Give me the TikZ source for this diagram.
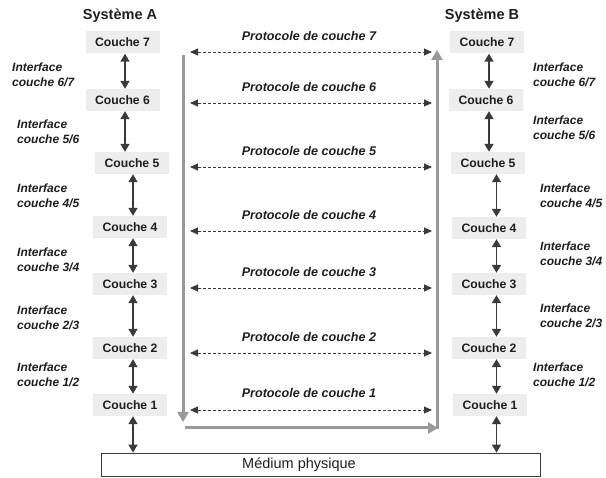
\documentclass[tikz,border=0pt]{standalone}
\usepackage{fontspec}
\setmainfont{Liberation Sans}
\usetikzlibrary{arrows.meta}
\definecolor{boxfill}{HTML}{EDEDED}
\definecolor{dk}{HTML}{3A3A3A}
\definecolor{gr}{HTML}{999999}
\definecolor{txt}{HTML}{1E1E1E}
\begin{document}
\begin{tikzpicture}[x=1pt,y=-1pt,
 couche/.style={fill=boxfill, minimum width=74pt, minimum height=22pt, inner sep=0pt, text=txt, font=\fontsize{12.2}{14}\selectfont\bfseries},
 title/.style={inner sep=0pt, text=txt, font=\fontsize{14.5}{16}\selectfont\bfseries},
 iface/.style={anchor=west, align=left, inner sep=0pt, text=txt, font=\fontsize{12}{15}\selectfont\bfseries\itshape},
 plabel/.style={inner sep=0pt, text=txt, font=\fontsize{12.6}{14}\selectfont\bfseries\itshape},
 biarrow/.style={{Triangle[width=9pt,length=8pt]}-{Triangle[width=9pt,length=8pt]}, draw=dk, line width=1.4pt},
 proto/.style={{Triangle[width=7pt,length=8pt]}-{Triangle[width=7pt,length=8pt]}, draw=dk, line width=0.9pt, dash pattern=on 3pt off 2pt},
 bigarrow/.style={-{Triangle[width=11pt,length=10pt]}, draw=gr, line width=3pt},
]
\useasboundingbox (0,0) rectangle (606,478);

% titles
\node[title] (sa) at (120,16) {Système A};
\node[title] (sb) at (482,16) {Système B};

% left column
\node[couche] (a7) at (122.5,42.5) {Couche 7};
\node[couche] (a6) at (122.5,100) {Couche 6};
\node[couche] (a5) at (132,163) {Couche 5};
\node[couche] (a4) at (130,227) {Couche 4};
\node[couche] (a3) at (130,284) {Couche 3};
\node[couche] (a2) at (130,348) {Couche 2};
\node[couche] (a1) at (130,405) {Couche 1};

% right column
\node[couche] (b7) at (487,42.5) {Couche 7};
\node[couche] (b6) at (486,100) {Couche 6};
\node[couche] (b5) at (488,163) {Couche 5};
\node[couche] (b4) at (489,228) {Couche 4};
\node[couche] (b3) at (489,284) {Couche 3};
\node[couche] (b2) at (489,348) {Couche 2};
\node[couche] (b1) at (490,405) {Couche 1};

% medium
\node[draw=dk, line width=0.8pt, minimum width=439pt, minimum height=23pt, inner sep=0pt] (med) at (320.5,464.5) {};
\node[inner sep=0pt, text=txt, font=\fontsize{14.5}{16}\selectfont] (medtxt) at (299,465) {Médium physique};

% vertical arrow columns
\coordinate (xla) at (125,0);
\coordinate (xlb) at (133,0);
\coordinate (xra) at (489,0);
\coordinate (xrb) at (496.5,0);

\draw[biarrow] (a7.south -| xla) -- (a6.north -| xla);
\draw[biarrow] (a6.south -| xla) -- (a5.north -| xla);
\draw[biarrow] (a5.south -| xlb) -- (a4.north -| xlb);
\draw[biarrow] (a4.south -| xlb) -- (a3.north -| xlb);
\draw[biarrow] (a3.south -| xlb) -- (a2.north -| xlb);
\draw[biarrow] (a2.south -| xlb) -- (a1.north -| xlb);
\draw[biarrow] (a1.south -| xlb) -- (med.north -| xlb);

\draw[biarrow] (b7.south -| xra) -- (b6.north -| xra);
\draw[biarrow] (b6.south -| xra) -- (b5.north -| xra);
\draw[biarrow] (b5.south -| xrb) -- (b4.north -| xrb);
\draw[biarrow] (b4.south -| xrb) -- (b3.north -| xrb);
\draw[biarrow] (b3.south -| xrb) -- (b2.north -| xrb);
\draw[biarrow] (b2.south -| xrb) -- (b1.north -| xrb);
\draw[biarrow] (b1.south -| xrb) -- (med.north -| xrb);

% interface labels
\node[iface] (il67) at (12,75) {Interface\\couche 6/7};
\node[iface] (il56) at (17,132) {Interface\\couche 5/6};
\node[iface] (il45) at (17,196) {Interface\\couche 4/5};
\node[iface] (il34) at (17,260) {Interface\\couche 3/4};
\node[iface] (il23) at (17,318) {Interface\\couche 2/3};
\node[iface] (il12) at (17,375) {Interface\\couche 1/2};

\node[iface] (ir67) at (533,75) {Interface\\couche 6/7};
\node[iface] (ir56) at (533,128) {Interface\\couche 5/6};
\node[iface] (ir45) at (540,196) {Interface\\couche 4/5};
\node[iface] (ir34) at (540,254) {Interface\\couche 3/4};
\node[iface] (ir23) at (540,316) {Interface\\couche 2/3};
\node[iface] (ir12) at (533,375) {Interface\\couche 1/2};

% protocol labels and arrows
\foreach \n/\ly/\ay in {7/36/52, 6/87/103, 5/151/167, 4/215/231, 3/272/288, 2/337/353, 1/393/410}{
  \node[plabel] (pt\n) at (309,\ly) {Protocole de couche \n};
  \coordinate (pl\n) at (190,\ay);
  \coordinate (pr\n) at (432,\ay);
  \draw[proto] (pl\n) -- (pr\n);
}

% big grey arrows
\coordinate (g1) at (183,55);
\coordinate (g2) at (183,422);
\coordinate (g3) at (184.5,428);
\coordinate (g4) at (438,428);
\coordinate (g5) at (437,429.5);
\coordinate (g6) at (437,50);
\draw[bigarrow] (g1) -- (g2);
\draw[bigarrow] (g3) -- (g4);
\draw[bigarrow] (g5) -- (g6);
\end{tikzpicture}
\end{document}
